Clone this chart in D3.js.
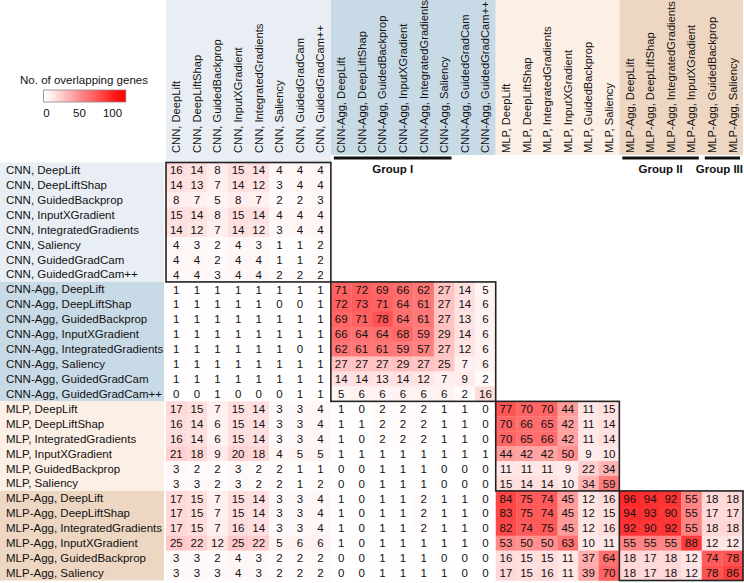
<!DOCTYPE html>
<html><head><meta charset="utf-8">
<script src="https://cdn.jsdelivr.net/npm/d3@7"></script>
<style>body{margin:0;background:#fff}svg{display:block;font-family:"Liberation Sans",Arial,Helvetica,sans-serif}</style>
</head><body><svg id="c" width="744" height="583"></svg>
<script>
// ---- data ----
const cnnMethods = ["DeepLift","DeepLiftShap","GuidedBackprop","InputXGradient","IntegratedGradients","Saliency","GuidedGradCam","GuidedGradCam++"];
const mlpMethods = ["DeepLift","DeepLiftShap","IntegratedGradients","InputXGradient","GuidedBackprop","Saliency"];
const modelGroups = ["CNN","CNN-Agg","MLP","MLP-Agg"];
const groupMethods = [cnnMethods, cnnMethods, mlpMethods, mlpMethods];

// rows of the lower block triangle (each row lists values for columns from the first onward)
const cnnRows = [
  [16,14,8,15,14,4,4,4],
  [14,13,7,14,12,3,4,4],
  [8,7,5,8,7,2,2,3],
  [15,14,8,15,14,4,4,4],
  [14,12,7,14,12,3,4,4],
  [4,3,2,4,3,1,1,2],
  [4,4,2,4,4,1,1,2],
  [4,4,3,4,4,2,2,2]
];
const cnnAggRows = [
  [1,1,1,1,1,1,1,1, 71,72,69,66,62,27,14,5],
  [1,1,1,1,1,0,0,1, 72,73,71,64,61,27,14,6],
  [1,1,1,1,1,1,1,1, 69,71,78,64,61,27,13,6],
  [1,1,1,1,1,1,1,1, 66,64,64,68,59,29,14,6],
  [1,1,1,1,1,1,0,1, 62,61,61,59,57,27,12,6],
  [1,1,1,1,1,1,1,1, 27,27,27,29,27,25,7,6],
  [1,1,1,1,1,1,1,1, 14,14,13,14,12,7,9,2],
  [0,0,1,0,0,0,1,1, 5,6,6,6,6,6,2,16]
];
const mlpRows = [
  [17,15,7,15,14,3,3,4, 1,0,2,2,2,1,1,0, 77,70,70,44,11,15],
  [16,14,6,15,14,3,3,4, 1,1,2,2,2,1,1,0, 70,66,65,42,11,14],
  [16,14,6,15,14,3,3,4, 1,0,2,2,2,1,1,0, 70,65,66,42,11,14],
  [21,18,9,20,18,4,5,5, 1,1,1,1,1,1,1,1, 44,42,42,50,9,10],
  [3,2,2,3,2,2,1,1, 0,0,1,1,1,0,0,0, 11,11,11,9,22,34],
  [3,3,2,3,2,2,1,2, 0,0,1,1,1,0,0,0, 15,14,14,10,34,59]
];
const mlpAggRows = [
  [17,15,7,15,14,3,3,4, 1,0,1,1,2,1,1,0, 84,75,74,45,12,16, 96,94,92,55,18,18],
  [17,15,7,15,14,3,3,4, 1,0,1,1,2,1,1,0, 83,75,74,45,12,15, 94,93,90,55,17,17],
  [17,15,7,16,14,3,3,4, 1,0,1,1,2,1,1,0, 82,74,75,45,12,16, 92,90,92,55,18,18],
  [25,22,12,25,22,5,6,6, 1,0,1,1,1,1,1,0, 53,50,50,63,10,11, 55,55,55,88,12,12],
  [3,3,2,4,3,2,2,2, 0,0,1,1,1,0,0,0, 16,15,15,11,37,64, 18,17,18,12,74,78],
  [3,3,3,4,3,2,2,2, 0,0,1,1,1,1,0,0, 17,15,16,11,39,70, 18,17,18,12,78,86]
];
const legendTicks = [0, 50, 100];
const groupBarLabels = ["Group I","Group II","Group III"];
const groupBarFrom = ["CNN-Agg, DeepLift","MLP-Agg, DeepLift","MLP-Agg, GuidedBackprop"];
const groupBarTo = ["CNN-Agg, Saliency","MLP-Agg, InputXGradient","MLP-Agg, Saliency"];

// ---- derived ----
const categories = [];
const catGroup = {};
modelGroups.forEach((g,i)=>groupMethods[i].forEach(m=>{const n=g+", "+m;categories.push(n);catGroup[n]=g;}));
const allRows = [...cnnRows, ...cnnAggRows, ...mlpRows, ...mlpAggRows];
const cells = [];
allRows.forEach((row,ri)=>row.forEach((v,ci)=>cells.push({r:categories[ri],c:categories[ci],v})));

const bandColor = {"CNN":"#e8eef4","CNN-Agg":"#c9dae7","MLP":"#fcefe5","MLP-Agg":"#edd7c3"};

const svg = d3.select("#c");
const W = 744;
const x = d3.scaleBand().domain(categories).range([166, 743]);
const y = d3.scaleBand().domain(categories).range([162.5, 580.5]);
const color = d3.scaleLinear().domain([0,115]).range(["#ffffff","#ff0000"]).clamp(true);

// row label bands
modelGroups.forEach((g,i)=>{
  const cs = categories.filter(c=>catGroup[c]===g);
  svg.append("rect").attr("x",0).attr("width",164)
    .attr("y",y(cs[0])).attr("height",y(cs[cs.length-1])+y.bandwidth()-y(cs[0]))
    .attr("fill",bandColor[g]);
});
// column header bands
modelGroups.forEach((g,i)=>{
  const cs = categories.filter(c=>catGroup[c]===g);
  const bottom = g==="CNN" ? y.range()[0] : 155;
  svg.append("rect").attr("y",0).attr("height",bottom)
    .attr("x",x(cs[0])).attr("width",x(cs[cs.length-1])+x.bandwidth()-x(cs[0]))
    .attr("fill",bandColor[g]);
});

// row labels
svg.append("g").selectAll("text").data(categories).join("text")
  .attr("x",6).attr("y",d=>y(d)+y.bandwidth()/2).attr("dy","0.35em")
  .attr("font-size",11.5).attr("fill","#111").text(d=>d);
// column labels
svg.append("g").selectAll("text").data(categories).join("text")
  .attr("transform",d=>`translate(${x(d)+x.bandwidth()/2},153) rotate(-90)`)
  .attr("dy","0.35em").attr("text-anchor","start")
  .attr("font-size",11.2).attr("fill","#111").text(d=>d);

// cells
const cg = svg.append("g");
cg.selectAll("rect").data(cells).join("rect")
  .attr("x",d=>x(d.c)).attr("y",d=>y(d.r))
  .attr("width",x.bandwidth()+0.3).attr("height",y.bandwidth()+0.3)
  .attr("fill",d=>color(d.v));
cg.selectAll("text").data(cells).join("text")
  .attr("x",d=>x(d.c)+x.bandwidth()/2).attr("y",d=>y(d.r)+y.bandwidth()/2)
  .attr("dy","0.36em").attr("text-anchor","middle")
  .attr("font-size",11.5).attr("fill","#111").text(d=>d.v);

// diagonal block borders
modelGroups.forEach(g=>{
  const cs = categories.filter(c=>catGroup[c]===g);
  const x0=x(cs[0]), x1=x(cs[cs.length-1])+x.bandwidth();
  const y0=y(cs[0]), y1=y(cs[cs.length-1])+y.bandwidth();
  svg.append("rect").attr("x",x0).attr("y",y0).attr("width",x1-x0).attr("height",y1-y0)
    .attr("fill","none").attr("stroke","#222").attr("stroke-width",1.6);
});

// group bars
groupBarLabels.forEach((lab,i)=>{
  const a = x(groupBarFrom[i])+3, b = x(groupBarTo[i])+x.bandwidth()-3;
  svg.append("rect").attr("x",a).attr("y",156.5).attr("width",b-a).attr("height",3).attr("fill","#111");
  const t = svg.append("text").attr("x",(a+b)/2).attr("y",169).attr("dy","0.35em").attr("text-anchor","middle")
    .attr("font-size",11.5).attr("font-weight","bold").attr("fill","#111").text(lab);
  const w = t.node().getComputedTextLength();
  if ((a+b)/2 + w/2 > W - 1) t.attr("x", W - 1 - w/2);
});

// legend
const lx = d3.scaleLinear().domain([0,100]).range([46,112]);
const defs = svg.append("defs");
const grad = defs.append("linearGradient").attr("id","lg");
d3.range(0,1.01,0.1).forEach(t=>grad.append("stop").attr("offset",t).attr("stop-color",color(-4+t*125)));
svg.append("text").attr("x",84).attr("y",80).attr("dy","0.35em").attr("text-anchor","middle")
  .attr("font-size",11.5).attr("fill","#111").text("No. of overlapping genes");
svg.append("rect").attr("x",lx(-4)).attr("y",90).attr("width",lx(121)-lx(-4)).attr("height",12)
  .attr("fill","url(#lg)").attr("stroke","#888").attr("stroke-width",0.8);
const la = svg.append("g").attr("transform","translate(0,102)")
  .call(d3.axisBottom(lx).tickValues(legendTicks).tickSize(0).tickPadding(7));
la.select(".domain").remove();
la.selectAll("text").attr("font-size",11.5).attr("fill","#111").attr("font-family","'Liberation Sans',Arial,sans-serif");
</script></body></html>
